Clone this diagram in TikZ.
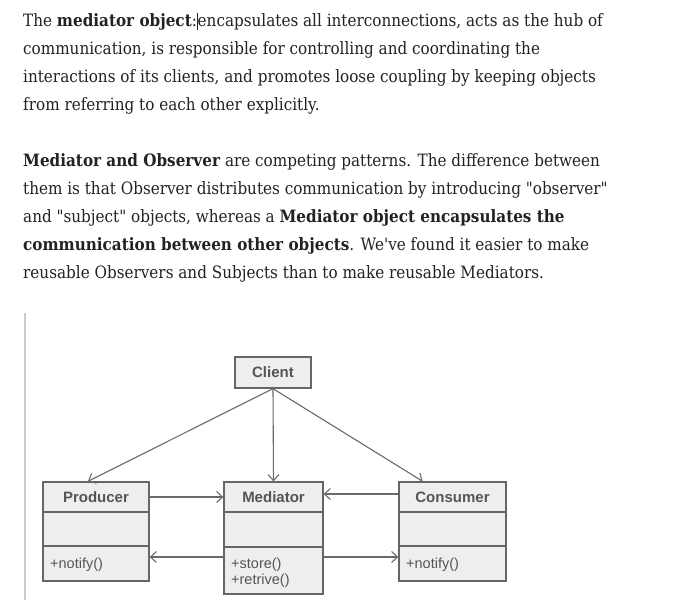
\documentclass[tikz,border=0pt]{standalone}
\usepackage{fontspec}
\setmainfont[FakeStretch=0.895,Ligatures=TeXOff]{DejaVu Serif}
\setsansfont{Liberation Sans}
\usetikzlibrary{arrows.meta,calc}
\definecolor{txt}{HTML}{222222}
\definecolor{boxline}{HTML}{666666}
\definecolor{boxfill}{HTML}{EEEEEE}
\definecolor{boxtext}{HTML}{555555}
\definecolor{conn}{HTML}{6A6A6A}
\definecolor{bar}{HTML}{CCCCCC}
\begin{document}
\begin{tikzpicture}[x=1pt,y=-1pt,
  para/.style={anchor=base west,inner sep=0pt,text=txt,font=\fontsize{17}{28}\selectfont},
  cls/.style={draw=boxline,fill=boxfill,line width=1.3pt,rectangle,inner sep=0pt,
    text=boxtext,font=\sffamily\bfseries\fontsize{15}{17}\selectfont},
  ops/.style={anchor=north west,inner sep=0pt,align=left,text=boxtext,
    font=\sffamily\fontsize{14.5}{16}\selectfont},
  link/.style={draw=conn,line width=1.1pt,-{Straight Barb[length=6pt,width=11pt,line width=1.1pt]}}]
\useasboundingbox (0,0) rectangle (677,600);
\fill[white] (0,0) rectangle (677,600);

% text
\node[para] (l1) at (23,26) {The \textbf{mediator object}:\rule[-4pt]{0.8pt}{17pt}encapsulates all interconnections, acts as the hub of};
\node[para] (l2) at (23,54) {communication, is responsible for controlling and coordinating the};
\node[para] (l3) at (23,82) {interactions of its clients, and promotes loose coupling by keeping objects};
\node[para] (l4) at (23,110) {from referring to each other explicitly.};
\node[para] (l5) at (23,166) {\textbf{Mediator and Observer} are competing patterns. The difference between};
\node[para] (l6) at (23,194) {them is that Observer distributes communication by introducing "observer"};
\node[para] (l7) at (23,222) {and "subject" objects, whereas a \textbf{Mediator object encapsulates the}};
\node[para] (l8) at (23,250) {\textbf{communication between other objects}. We've found it easier to make};
\node[para] (l9) at (23,278) {reusable Observers and Subjects than to make reusable Mediators.};

% left bar
\fill[bar] (23.5,313) rectangle (25.5,600);

% classes
\node[cls,minimum width=76pt,minimum height=31pt] (client) at (273,372.5) {Client};

\node[cls,minimum width=106pt,minimum height=30pt] (prodH) at (96,497) {Producer};
\node[cls,minimum width=106pt,minimum height=34pt] (prodM) at (96,529) {};
\node[cls,minimum width=106pt,minimum height=35pt] (prodB) at (96,563.5) {};
\node[ops] (prodO) at (50,558) {+notify()};

\node[cls,minimum width=99pt,minimum height=30pt] (medH) at (273.5,497) {Mediator};
\node[cls,minimum width=99pt,minimum height=35pt] (medM) at (273.5,529.5) {};
\node[cls,minimum width=99pt,minimum height=47pt] (medB) at (273.5,570.5) {};
\node[ops] (medO) at (231,558) {+store()\\+retrive()};

\node[cls,minimum width=107pt,minimum height=30pt] (consH) at (452.5,497) {Consumer};
\node[cls,minimum width=107pt,minimum height=34pt] (consM) at (452.5,529) {};
\node[cls,minimum width=107pt,minimum height=35pt] (consB) at (452.5,563.5) {};
\node[ops] (consO) at (406,558) {+notify()};

% connectors
\draw[link] (client.south) -- ($(prodH.north west)!0.425!(prodH.north east)$);
\draw[link] (client.south) -- (medH.north);
\draw[link] (client.south) -- ($(consH.north west)!0.225!(consH.north east)$);
\draw[link] (prodH.east) -- (medH.west);
\draw[link] ($(consH.west)+(0,-3)$) -- ($(medH.east)+(0,-3)$);
\draw[link] ($(medB.west)+(0,-13.5)$) -- ($(prodB.east)+(0,-6.5)$);
\draw[link] ($(medB.east)+(0,-13.5)$) -- ($(consB.west)+(0,-6.5)$);
\end{tikzpicture}
\end{document}
